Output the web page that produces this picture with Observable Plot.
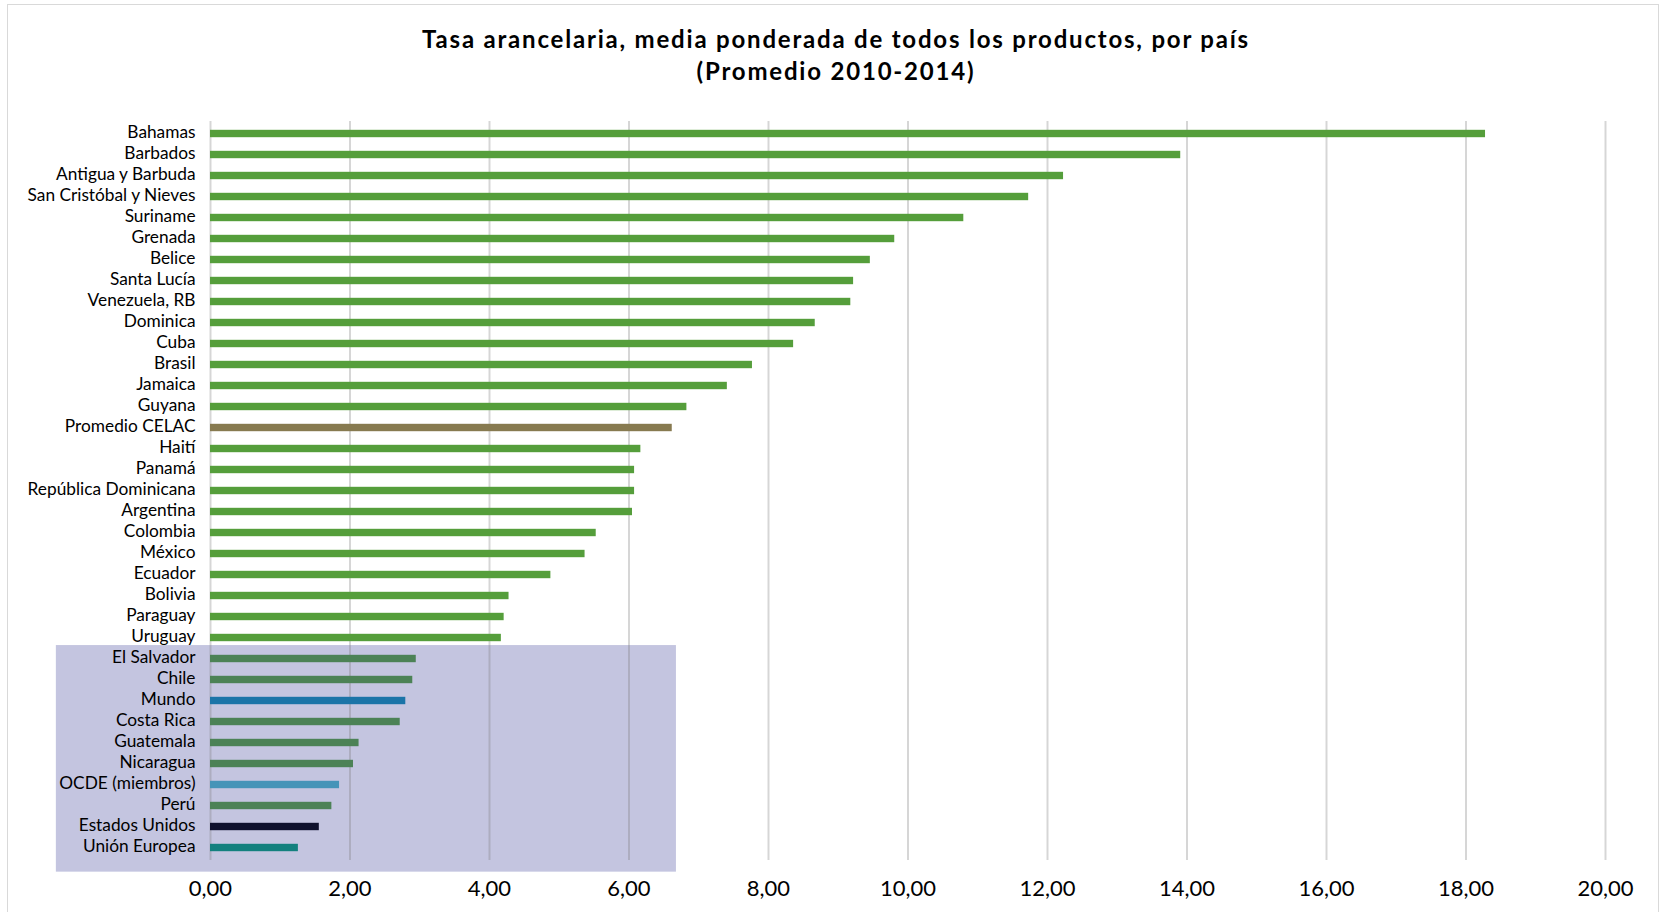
<!DOCTYPE html>
<html>
<head>
<meta charset="utf-8">
<script src="https://cdn.jsdelivr.net/npm/d3@7"></script>
<script src="https://cdn.jsdelivr.net/npm/@observablehq/plot@0.6"></script>
<style>
  html, body { margin: 0; padding: 0; background: #fff; }
  #wrap { position: relative; width: 1667px; height: 912px; overflow: hidden; font-family: Lato, "Open Sans", sans-serif; }
  #frame { position: absolute; left: 7px; top: 4px; width: 1652px; height: 920px; border: 1px solid #d9d9d9; box-sizing: border-box; }
  #title { position: absolute; left: 0; top: 23px; width: 1672px; text-align: center; font-weight: bold; font-size: 24px; line-height: 32px; color: #000; letter-spacing: 1.8px; }
  #chart { position: absolute; left: 0; top: 100px; }
</style>
</head>
<body>
<div id="wrap">
  <div id="frame"></div>
  <div id="title">Tasa arancelaria, media ponderada de todos los productos, por país<br>(Promedio 2010-2014)</div>
  <div id="chart"></div>
</div>
<script>
const categories = ["Bahamas","Barbados","Antigua y Barbuda","San Cristóbal y Nieves","Suriname","Grenada","Belice","Santa Lucía","Venezuela, RB","Dominica","Cuba","Brasil","Jamaica","Guyana","Promedio CELAC","Haití","Panamá","República Dominicana","Argentina","Colombia","México","Ecuador","Bolivia","Paraguay","Uruguay","El Salvador","Chile","Mundo","Costa Rica","Guatemala","Nicaragua","OCDE (miembros)","Perú","Estados Unidos","Unión Europea"];
const values = [18.28,13.91,12.23,11.73,10.80,9.81,9.46,9.22,9.18,8.67,8.36,7.77,7.41,6.83,6.62,6.17,6.08,6.08,6.05,5.53,5.37,4.88,4.28,4.21,4.17,2.95,2.90,2.80,2.72,2.13,2.05,1.85,1.74,1.56,1.26];
const groups = ["A","A","A","A","A","A","A","A","A","A","A","A","A","A","CELAC","A","A","A","A","A","A","A","A","A","A","B","B","Mundo","B","B","B","OCDE","B","EEUU","UE"];
const groupNames = ["A","CELAC","B","Mundo","OCDE","EEUU","UE"];
const groupColors = ["#559E3B","#877A50","#4C8256","#1B74A8","#4594B8","#0F112D","#13807E"];
const xTicks = [0,2,4,6,8,10,12,14,16,18,20];
const highlightRows = ["El Salvador","Unión Europea"];
const highlightX = [-2.21, 6.68];

const data = categories.map((c, i) => ({country: c, value: values[i], group: groups[i]}));
const fmt = d => d.toFixed(2).replace(".", ",");

const highlightBox = (index, scales, channels, dimensions) => {
  const {x, y} = scales;
  const bw = typeof y.bandwidth === "function" ? y.bandwidth() : y.bandwidth;
  const x1 = x(highlightX[0]), x2 = x(highlightX[1]);
  const y1 = y(highlightRows[0]) - 0.14 * bw;
  const y2 = y(highlightRows[1]) + 1.65 * bw;
  const r = document.createElementNS("http://www.w3.org/2000/svg", "rect");
  r.setAttribute("x", x1); r.setAttribute("y", y1);
  r.setAttribute("width", x2 - x1); r.setAttribute("height", y2 - y1);
  r.setAttribute("fill", "#C4C5E0");
  return r;
};

const chart = Plot.plot({
  width: 1667,
  height: 812,
  marginTop: 21,
  marginBottom: 52,
  marginLeft: 210,
  marginRight: 62,
  style: {fontFamily: "Lato, 'Open Sans', sans-serif", background: "transparent", overflow: "visible"},
  x: {domain: [0, 20], ticks: xTicks, label: null},
  y: {domain: categories, padding: 0, label: null},
  color: {domain: groupNames, range: groupColors},
  marks: [
    highlightBox,
    Plot.gridX(xTicks, {stroke: "#777", strokeOpacity: 0.3, strokeWidth: 2}),
    Plot.barX(data, {x: "value", y: "country", fill: "group", insetTop: 6.8, insetBottom: 6.8}),
    Plot.axisX({ticks: xTicks, tickFormat: fmt, tickSize: 0, tickPadding: 20, fontSize: 22, fill: "#000", label: null}),
    Plot.axisY({tickSize: 0, tickPadding: 15, fontSize: 17.3, fill: "#000", dy: -1.5, label: null})
  ]
});
document.getElementById("chart").appendChild(chart);
</script>
</body>
</html>
